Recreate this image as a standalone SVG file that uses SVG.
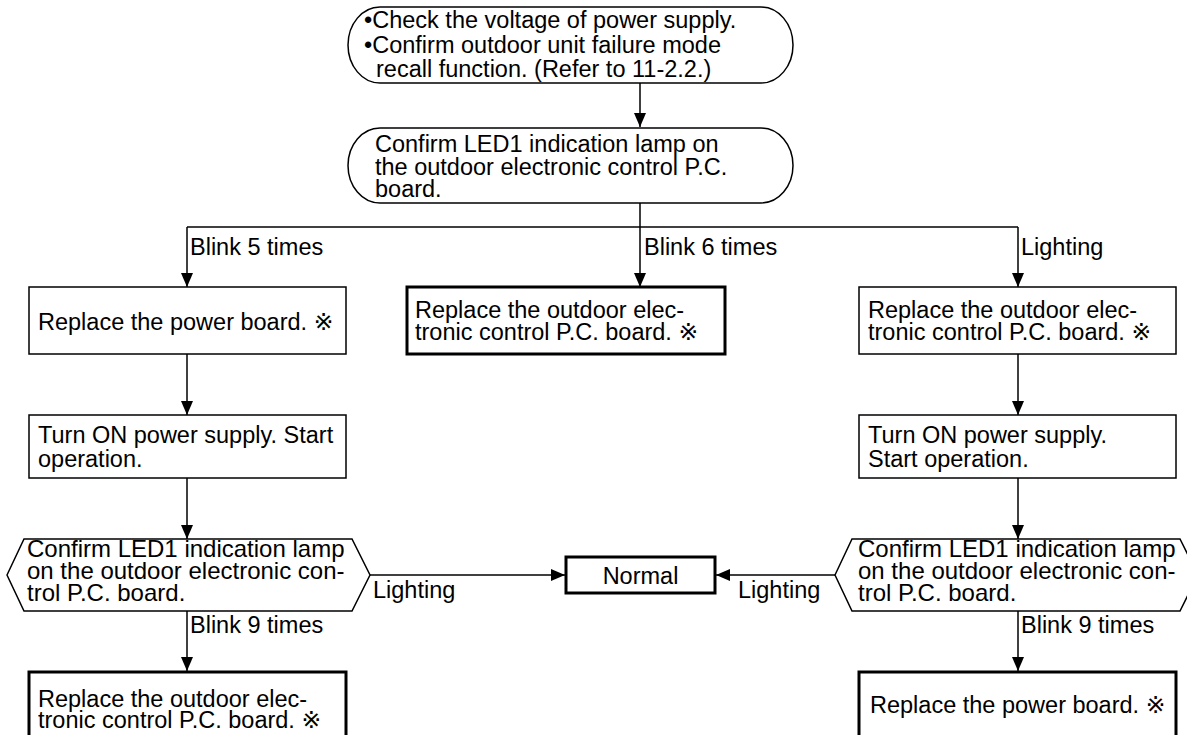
<svg xmlns="http://www.w3.org/2000/svg" width="1187" height="735" viewBox="0 0 1187 735">
<style>
text{font-family:"Liberation Sans","DejaVu Sans","Noto Sans CJK JP",sans-serif;font-size:23.5px;fill:#000}
.hx{font-size:24px}
.thin{fill:#fff;stroke:#000;stroke-width:1.5}
.thick{fill:#fff;stroke:#000;stroke-width:3}
.c{fill:none;stroke:#000;stroke-width:1.5}
</style>
<defs>
<marker id="ah" markerUnits="userSpaceOnUse" markerWidth="14" markerHeight="12" refX="14" refY="6" orient="auto">
<path d="M0,0 L14,6 L0,12 z" fill="#000"/>
</marker>
</defs>
<rect width="1187" height="735" fill="#fff"/>
<g id="connectors">
<line class="c" x1="640" y1="83" x2="640" y2="127" marker-end="url(#ah)"/>
<polyline class="c" points="640,203 640,227"/>
<line class="c" x1="187" y1="227" x2="1018" y2="227"/>
<line class="c" x1="187" y1="227" x2="187" y2="287" marker-end="url(#ah)"/>
<line class="c" x1="640" y1="227" x2="640" y2="287" marker-end="url(#ah)"/>
<line class="c" x1="1018" y1="227" x2="1018" y2="287" marker-end="url(#ah)"/>
<line class="c" x1="187" y1="354" x2="187" y2="415" marker-end="url(#ah)"/>
<line class="c" x1="1018" y1="354" x2="1018" y2="415" marker-end="url(#ah)"/>
<line class="c" x1="187" y1="478" x2="187" y2="539" marker-end="url(#ah)"/>
<line class="c" x1="1018" y1="478" x2="1018" y2="539" marker-end="url(#ah)"/>
<line class="c" x1="370" y1="575" x2="565" y2="575" marker-end="url(#ah)"/>
<line class="c" x1="835" y1="575" x2="716" y2="575" marker-end="url(#ah)"/>
<line class="c" x1="187" y1="611" x2="187" y2="671" marker-end="url(#ah)"/>
<line class="c" x1="1018" y1="611" x2="1018" y2="671" marker-end="url(#ah)"/>
<text x="190" y="255">Blink 5 times</text>
<text x="644" y="255">Blink 6 times</text>
<text x="1021" y="255">Lighting</text>
<text x="373" y="598">Lighting</text>
<text x="738" y="598">Lighting</text>
<text x="190" y="633">Blink 9 times</text>
<text x="1021" y="633">Blink 9 times</text>
</g>
<g id="start">
<rect class="thin" x="348" y="7" width="445" height="76" rx="32" ry="38"/>
<text x="364" y="28">•Check the voltage of power supply.</text>
<text x="364" y="53">•Confirm outdoor unit failure mode</text>
<text x="376" y="77">recall function. (Refer to 11-2.2.)</text>
</g>
<g id="confirm-led1">
<rect class="thin" x="348" y="128" width="445" height="75" rx="32" ry="37.5"/>
<text x="375" y="152">Confirm LED1 indication lamp on</text>
<text x="375" y="175">the outdoor electronic control P.C.</text>
<text x="375" y="197">board.</text>
</g>
<g id="replace-power-1">
<rect class="thin" x="29" y="287" width="317" height="67"/>
<text x="38" y="330">Replace the power board. ※</text>
</g>
<g id="replace-pcb-mid">
<rect class="thick" x="407" y="287" width="318" height="67"/>
<text x="415" y="318">Replace the outdoor elec-</text>
<text x="415" y="340">tronic control P.C. board. ※</text>
</g>
<g id="replace-pcb-right">
<rect class="thin" x="859" y="287" width="317" height="67"/>
<text x="868" y="318">Replace the outdoor elec-</text>
<text x="868" y="340">tronic control P.C. board. ※</text>
</g>
<g id="turn-on-left">
<rect class="thin" x="29" y="415" width="317" height="63"/>
<text x="38" y="443">Turn ON power supply. Start</text>
<text x="38" y="467">operation.</text>
</g>
<g id="turn-on-right">
<rect class="thin" x="859" y="415" width="317" height="63"/>
<text x="868" y="443">Turn ON power supply.</text>
<text x="868" y="467">Start operation.</text>
</g>
<g id="check-left">
<polygon class="thin" points="7,575 24,539 352,539 370,575 352,611 24,611"/>
<text class="hx" x="27" y="557">Confirm LED1 indication lamp</text>
<text class="hx" x="27" y="579">on the outdoor electronic con-</text>
<text class="hx" x="27" y="601">trol P.C. board.</text>
</g>
<g id="check-right">
<polygon class="thin" points="835,575 852,539 1180,539 1198,575 1180,611 852,611"/>
<text class="hx" x="858" y="557">Confirm LED1 indication lamp</text>
<text class="hx" x="858" y="579">on the outdoor electronic con-</text>
<text class="hx" x="858" y="601">trol P.C. board.</text>
</g>
<g id="normal">
<rect class="thick" x="566" y="557" width="149" height="36"/>
<text x="640.5" y="584" text-anchor="middle">Normal</text>
</g>
<g id="replace-pcb-bottom">
<rect class="thick" x="29" y="672" width="317" height="80"/>
<text x="38" y="707">Replace the outdoor elec-</text>
<text x="38" y="728">tronic control P.C. board. ※</text>
</g>
<g id="replace-power-bottom">
<rect class="thick" x="859" y="672" width="317" height="80"/>
<text x="870" y="713">Replace the power board. ※</text>
</g>
</svg>
